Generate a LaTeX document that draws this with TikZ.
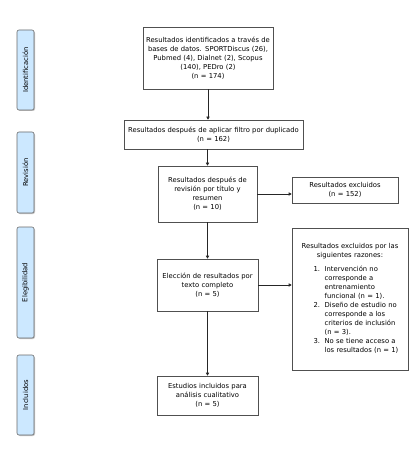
\documentclass[tikz,border=0pt]{standalone}
\usepackage{fontspec}
\setmainfont{DejaVu Sans}
\usetikzlibrary{arrows.meta,shadows}
\definecolor{sidefill}{HTML}{CCE8FF}
\definecolor{sidedraw}{HTML}{6A6A6A}
\definecolor{boxdraw}{HTML}{505050}
\begin{document}
\begin{tikzpicture}[x=1pt,y=-1pt,
  txt/.style={font=\fontsize{6.8}{9}\selectfont},
  mainbox/.style={draw=boxdraw, line width=0.6pt, fill=white, inner sep=0pt, align=center, txt},
  sidebox/.style={draw=sidedraw, line width=0.6pt, fill=sidefill, rounded corners=2pt,
    minimum width=17pt, inner sep=0pt,
    drop shadow={shadow xshift=1pt, shadow yshift=-1pt, fill=gray!55, opacity=0.8}},
  sidetext/.style={rotate=90, txt, text=black},
  conn/.style={draw=black!85, line width=0.6pt, -{Triangle[width=3.2pt,length=3pt]}}
]
\useasboundingbox (0,0) rectangle (418,454);
\fill[white] (0,0) rectangle (418,454);

% side boxes
\node[sidebox, minimum height=80pt] (s1) at (25.5,70) {};
\node[sidetext] (t1) at (s1.center) {Identificación};
\node[sidebox, minimum height=81pt] (s2) at (25.5,172.5) {};
\node[sidetext] (t2) at (s2.center) {Revisión};
\node[sidebox, minimum height=111pt] (s3) at (25.5,282.5) {};
\node[sidetext] (t3) at (s3.center) {Elegibilidad};
\node[sidebox, minimum height=80pt] (s4) at (25.5,395) {};
\node[sidetext] (t4) at (s4.center) {Incluidos};

% main boxes
\node[mainbox, minimum width=130pt, minimum height=62pt, text width=128pt] (b1) at (208,58)
  {Resultados identificados a través de\\ bases de datos. SPORTDiscus (26),\\ Pubmed (4), Dialnet (2), Scopus\\ (140), PEDro (2)\\ (n = 174)};
\node[mainbox, minimum width=179pt, minimum height=29pt, text width=176pt] (b2) at (213.5,134.5)
  {Resultados después de aplicar filtro por duplicado\\ (n = 162)};
\node[mainbox, minimum width=99pt, minimum height=56pt, text width=97pt] (b3) at (207.5,194)
  {Resultados después de\\ revisión por título y\\ resumen\\ (n = 10)};
\node[mainbox, minimum width=106pt, minimum height=26pt, text width=102pt] (b4) at (345,190)
  {Resultados excluidos\\ (n = 152)};
\node[mainbox, minimum width=116pt, minimum height=142pt, text width=114pt] (b5) at (350,299)
  {Resultados excluidos por las\\ siguientes razones:\\[5pt]
   \hspace*{12pt}\begin{tabular}{@{}p{11pt}@{}l@{}}
   1. & Intervención no\\
      & corresponde a\\
      & entrenamiento\\
      & funcional (n = 1).\\
   2. & Diseño de estudio no\\
      & corresponde a los\\
      & criterios de inclusión\\
      & (n = 3).\\
   3. & No se tiene acceso a\\
      & los resultados (n = 1)
   \end{tabular}};
\node[mainbox, minimum width=101pt, minimum height=52pt, text width=99pt] (b6) at (207.5,285)
  {Elección de resultados por\\ texto completo\\ (n = 5)};
\node[mainbox, minimum width=101pt, minimum height=39pt, text width=99pt] (b7) at (207.5,395.5)
  {Estudios incluidos para\\ análisis cualitativo\\ (n = 5)};

% connectors
\draw[conn] (b1.south) -- (b1.south |- b2.north);
\draw[conn] (b3.north |- b2.south) -- (b3.north);
\draw[conn] (b3.south) -- (b6.north);
\draw[conn] (b6.south) -- (b7.north);
\draw[conn] (b3.east) -- (b3.east -| b4.west);
\draw[conn] (b6.east) -- (b6.east -| b5.west);
\end{tikzpicture}
\end{document}
